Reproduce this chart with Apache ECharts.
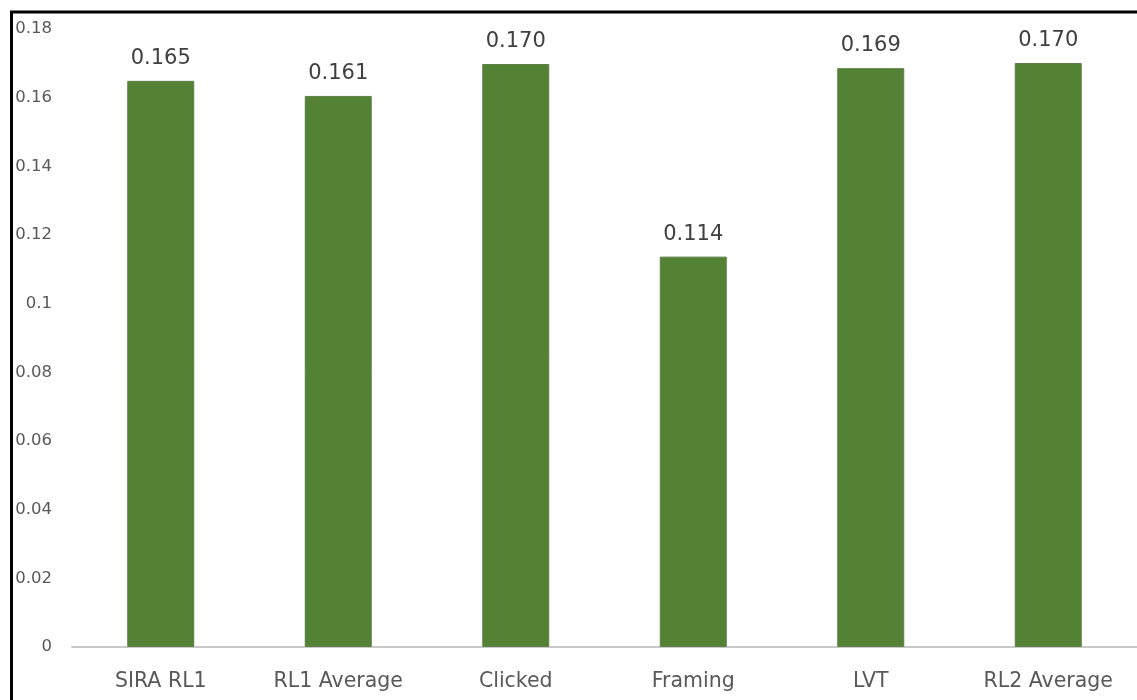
<!DOCTYPE html>
<html>
<head>
<meta charset="utf-8">
<script src="https://cdn.jsdelivr.net/npm/echarts@6/dist/echarts.min.js"></script>
<style>
html,body{margin:0;padding:0;background:#fff;}
#chart{width:1137px;height:700px;}
</style>
</head>
<body>
<div id="chart"></div>
<script>
const categories = ['SIRA RL1', 'RL1 Average', 'Clicked', 'Framing', 'LVT', 'RL2 Average'];
const values = [0.1649, 0.1605, 0.1698, 0.1137, 0.1686, 0.1701];
const yTicks = { min: 0, max: 0.18, interval: 0.02 };

const chart = echarts.init(document.getElementById('chart'));
chart.setOption({
  backgroundColor: '#ffffff',
  animation: false,
  graphic: [{
    type: 'rect',
    shape: { x: 11.5, y: 12, width: 1300, height: 900 },
    style: { fill: 'none', stroke: '#000', lineWidth: 3 },
    z: 100
  }],
  grid: { left: 72, top: 29, width: 1068, bottom: 53, containLabel: false },
  xAxis: {
    type: 'category',
    data: categories,
    axisLine: { show: true, lineStyle: { color: '#c8c8c8', width: 2 } },
    axisTick: { show: false },
    axisLabel: { color: '#595959', fontFamily: 'DejaVu Sans', fontSize: 20.5, margin: 24 }
  },
  yAxis: {
    type: 'value',
    min: yTicks.min, max: yTicks.max, interval: yTicks.interval,
    axisLine: { show: false },
    axisTick: { show: false },
    splitLine: { show: false },
    axisLabel: {
      color: '#595959', fontFamily: 'DejaVu Sans', fontSize: 16.5, margin: 20,
      formatter: v => String(+v.toFixed(2))
    }
  },
  series: [{
    type: 'bar',
    data: values,
    barWidth: 67,
    itemStyle: { color: '#548235', borderColor: '#5f7f4a', borderWidth: 1 },
    label: {
      show: true, position: 'top', distance: 12,
      color: '#404040', fontFamily: 'DejaVu Sans', fontSize: 21,
      formatter: p => p.value.toFixed(3)
    }
  }]
});
</script>
</body>
</html>
